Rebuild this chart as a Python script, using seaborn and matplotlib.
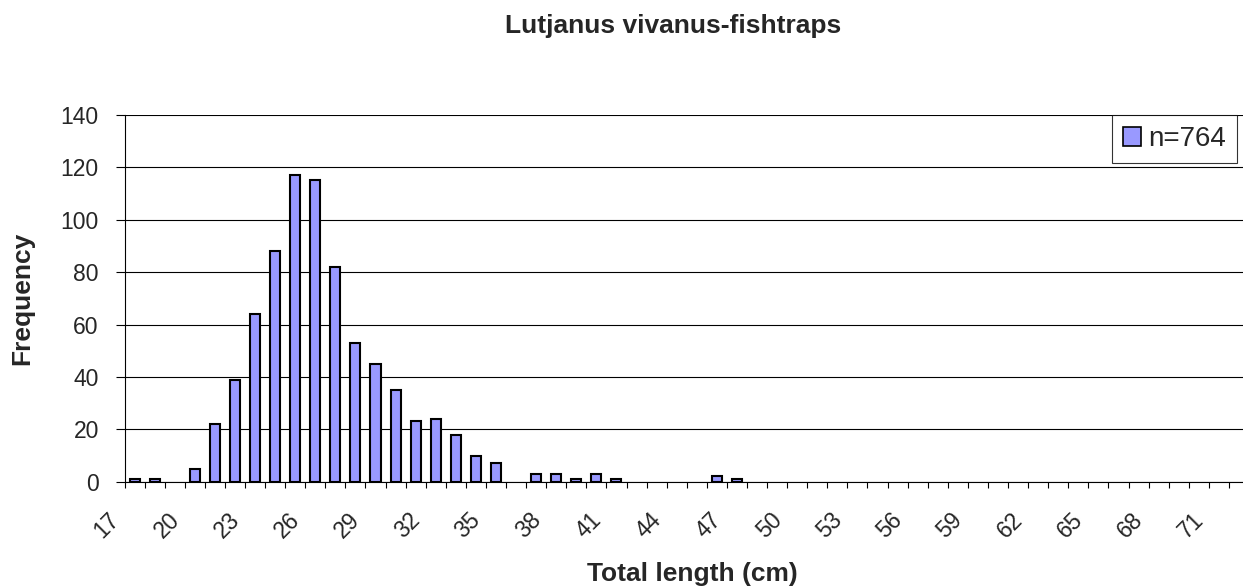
import matplotlib
matplotlib.use("Agg")
import matplotlib.pyplot as plt
import matplotlib.transforms as mtransforms
from matplotlib.patches import Patch
import numpy as np
import pandas as pd
import seaborn as sns

# Length classes (cm) and fish counts per class
lengths = [17, 18, 19, 20, 21, 22, 23, 24, 25, 26, 27, 28, 29, 30, 31, 32, 33, 34,
           35, 36, 37, 38, 39, 40, 41, 42, 43, 44, 45, 46, 47, 48, 49, 50, 51, 52,
           53, 54, 55, 56, 57, 58, 59, 60, 61, 62, 63, 64, 65, 66, 67, 68, 69, 70,
           71, 72]
counts = [1, 1, 0, 5, 22, 39, 64, 88, 117, 115, 82, 53, 45, 35, 23, 24, 18, 10,
          7, 0, 3, 3, 1, 3, 1, 0, 0, 0, 0, 2, 1, 0, 0, 0, 0, 0,
          0, 0, 0, 0, 0, 0, 0, 0, 0, 0, 0, 0, 0, 0, 0, 0, 0, 0,
          0, 0]
y_ticks = [0, 20, 40, 60, 80, 100, 120, 140]
legend_label = "n=764"
title = "Lutjanus vivanus-fishtraps"

bar_color = "#9999FF"

sns.set_style("white")
plt.rcParams["font.family"] = ["Liberation Sans", "DejaVu Sans"]

df = pd.DataFrame({"length": lengths, "count": counts})

W, H = 1243, 588
fig = plt.figure(figsize=(W / 100, H / 100), dpi=100)
# plot area runs a little past the right edge of the picture
ax = fig.add_axes([124.5 / W, (H - 481.7) / H, (1249 - 124.5) / W, (481.7 - 115) / H])

sns.barplot(data=df, x="length", y="count", order=lengths, color=bar_color,
            saturation=1, width=0.5, edgecolor="black", linewidth=1.5, ax=ax)

# empty classes show no outline
for p in ax.patches:
    if p.get_height() == 0:
        p.set_linewidth(0)

ax.set_ylim(0, 140)
ax.set_yticks(y_ticks)
ax.set_xlim(-0.5, len(lengths) - 0.5)
ax.yaxis.grid(True, color="black", linewidth=0.8)
ax.set_axisbelow(True)

for side in ["top", "right"]:
    ax.spines[side].set_visible(False)
for side in ["left", "bottom"]:
    ax.spines[side].set_color("black")
    ax.spines[side].set_linewidth(0.8)

# labels every third class, tick marks on every class boundary
pos = np.arange(0, len(lengths), 3)
ax.set_xticks(pos)
ax.set_xticklabels([str(lengths[i]) for i in pos], rotation=45, ha="right",
                   va="center", rotation_mode="anchor", fontsize=16.5)
ax.set_xticks(np.arange(-0.5, len(lengths), 1), minor=True)
ax.tick_params(axis="x", which="major", length=0, pad=0)
ax.tick_params(axis="x", which="minor", length=4.3, width=0.8, color="black",
               direction="out", bottom=True)
ax.tick_params(axis="y", length=6.5, width=0.8, color="black", direction="out",
               left=True, pad=12, labelsize=16.5)

plot_w = 1249 - 124.5
plot_h = 481.7 - 115
ax.set_xlabel("Total length (cm)", fontsize=19, fontweight="bold")
ax.set_ylabel("Frequency", fontsize=19, fontweight="bold")
ax.xaxis.set_label_coords((692 - 124.5) / plot_w, -(581 - 481.7) / plot_h)
ax.xaxis.label.set_va("baseline")
ax.yaxis.set_label_coords((22 - 124.5) / plot_w, 0.5)
ax.yaxis.label.set_va("center")

fig.text(673 / W, 1 - 33 / H, title, ha="center", va="baseline",
         fontsize=19, fontweight="bold")

handle = Patch(facecolor=bar_color, edgecolor="black", linewidth=1.2, label=legend_label)
leg = ax.legend(handles=[handle], loc="upper right",
                bbox_to_anchor=(1237 / W, 1 - 115 / H), bbox_transform=fig.transFigure,
                borderaxespad=0, fontsize=20, frameon=True, fancybox=False,
                handlelength=0.65, handleheight=0.65, handletextpad=0.25,
                borderpad=0.4)
leg.get_frame().set_edgecolor("black")
leg.get_frame().set_linewidth(0.8)

# shift the slanted class labels the way the original places them
fig.canvas.draw()
shift = mtransforms.ScaledTranslation(-0.19, -0.344, fig.dpi_scale_trans)
for tick in ax.xaxis.get_major_ticks():
    tick.label1.set_transform(tick.label1.get_transform() + shift)

fig.savefig("out.png", dpi=100)
